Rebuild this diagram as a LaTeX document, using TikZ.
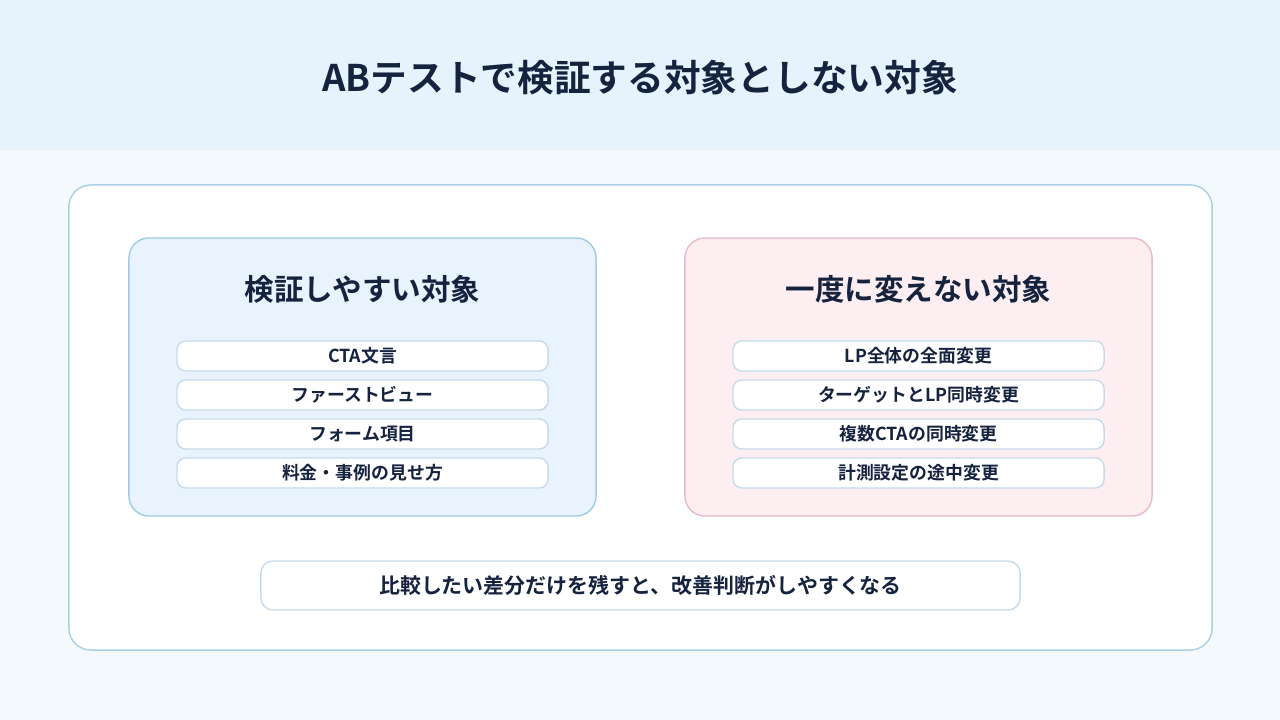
\documentclass[tikz,border=0pt]{standalone}
\usepackage{fontspec}
\setmainfont{Noto Sans CJK JP}[BoldFont={Noto Sans CJK JP Bold}]
\usetikzlibrary{positioning}

\definecolor{topband}{HTML}{E6F3FD}
\definecolor{pagebg}{HTML}{F4F9FD}
\definecolor{ink}{HTML}{15233F}
\definecolor{outerline}{HTML}{A9CFE6}
\definecolor{blueline}{HTML}{9FCBE4}
\definecolor{bluefill}{HTML}{E8F3FD}
\definecolor{pinkline}{HTML}{E9BAC4}
\definecolor{pinkfill}{HTML}{FDEFF1}
\definecolor{itemline}{HTML}{C7DAEA}

\begin{document}
\begin{tikzpicture}[
        x=0.025cm, y=-0.025cm,
        text=ink,
        panel/.style={draw=outerline, line width=1pt, fill=white, rounded corners=0.55cm,
                      minimum width=28.575cm, minimum height=11.625cm, inner sep=0pt},
        goodbox/.style={draw=blueline, line width=1pt, fill=bluefill, rounded corners=0.5cm,
                        minimum width=11.675cm, minimum height=6.95cm, inner sep=0pt},
        badbox/.style={goodbox, draw=pinkline, fill=pinkfill},
        boxtitle/.style={font=\fontsize{21}{24}\selectfont\bfseries},
        item/.style={draw=itemline, line width=1pt, fill=white, rounded corners=0.22cm,
                     minimum width=9.275cm, minimum height=0.75cm, inner sep=0pt,
                     font=\fontsize{12.7}{15}\selectfont\bfseries},
        summary/.style={draw=itemline, line width=1pt, fill=white, rounded corners=0.3cm,
                        minimum width=18.975cm, minimum height=1.225cm, inner sep=0pt,
                        font=\fontsize{14.9}{18}\selectfont\bfseries}
    ]
        % background
        \fill[pagebg] (0,150) rectangle (1280,720);
        \fill[topband] (0,0) rectangle (1280,150);
        \node[font=\fontsize{26.1}{30}\selectfont\bfseries] (title) at (640,78) {ABテストで検証する対象としない対象};

        \node[panel] (panel) at (640.5,417.5) {};

        % left: easy to test
        \node[goodbox] (good) at (362.5,377) {};
        \node[boxtitle] (goodtitle) at (362.5,289) {検証しやすい対象};
        \node[item] (g1) at (362.5,356) {CTA文言};
        \node[item] (g2) at (362.5,395) {ファーストビュー};
        \node[item] (g3) at (362.5,434) {フォーム項目};
        \node[item] (g4) at (362.5,473) {料金・事例の見せ方};

        % right: do not change at once
        \node[badbox] (bad) at (918.5,377) {};
        \node[boxtitle] (badtitle) at (918.5,289) {一度に変えない対象};
        \node[item] (b1) at (918.5,356) {LP全体の全面変更};
        \node[item] (b2) at (918.5,395) {ターゲットとLP同時変更};
        \node[item] (b3) at (918.5,434) {複数CTAの同時変更};
        \node[item] (b4) at (918.5,473) {計測設定の途中変更};

        \node[summary] (summary) at (640.5,585.5) {比較したい差分だけを残すと、改善判断がしやすくなる};
    \end{tikzpicture}
\end{document}
